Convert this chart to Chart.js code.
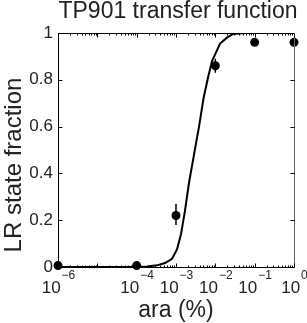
<!DOCTYPE html>
<html>
<head>
<meta charset="utf-8">
<script src="https://cdn.jsdelivr.net/npm/chart.js@4.4.0/dist/chart.umd.min.js"></script>
<style>
  html, body { margin: 0; padding: 0; background: #fff; }
  #c { display: block; }
</style>
</head>
<body>
<canvas id="c" width="307" height="323"></canvas>
<script>
// measured points (ara %, LR state fraction) with error bar ends
const araX = [1e-6, 1e-4, 1e-3, 1e-2, 1e-1, 1];
const lrFrac = [0.006, 0.006, 0.22, 0.86, 0.96, 0.96];
const errLow = [0.006, 0.006, 0.18, 0.83, 0.96, 0.96];
const errHigh = [0.006, 0.006, 0.27, 0.89, 0.96, 0.96];

// fitted transfer curve
const fitX = [1e-6, 1e-4, 1.83e-4, 3.29e-4, 5.26e-4, 7.93e-4, 1.06e-3, 1.34e-3, 1.69e-3, 2.14e-3,
  2.87e-3, 3.85e-3, 5.0e-3, 6.52e-3, 8.24e-3, 1.32e-2, 1.98e-2, 2.82e-2, 5.69e-2, 1];
const fitY = [0, 0, 0.002, 0.007, 0.017, 0.035, 0.075, 0.14, 0.24, 0.36,
  0.48, 0.60, 0.72, 0.81, 0.88, 0.955, 0.98, 0.996, 1.0, 1.0];

// tick labels shown on the x axis (exponents of 10), 10^-5 is not labelled
const xTickExps = [-6, -4, -3, -2, -1, 0];
const yTicks = [0, 0.2, 0.4, 0.6, 0.8, 1];

const FONT = "'Liberation Sans', Arial, Helvetica, sans-serif";
const INK = '#222';

const boxPlugin = {
  id: 'box',
  beforeDatasetsDraw(chart) {
    const ctx = chart.ctx;
    const xs = chart.scales.x, ys = chart.scales.y;
    ctx.save();
    ctx.strokeStyle = '#000';
    ctx.lineWidth = 1.5;
    for (let i = 0; i < araX.length; i++) {
      if (errHigh[i] - errLow[i] <= 0) continue;
      const px = xs.getPixelForValue(araX[i]);
      ctx.beginPath();
      ctx.moveTo(px, ys.getPixelForValue(errLow[i]));
      ctx.lineTo(px, ys.getPixelForValue(errHigh[i]));
      ctx.stroke();
    }
    ctx.restore();
  },
  afterDraw(chart) {
    const ctx = chart.ctx;
    const a = chart.chartArea;
    const xs = chart.scales.x, ys = chart.scales.y;
    const L = Math.round(a.left) + 0.5, R = Math.round(a.right) + 0.5;
    const T = Math.round(a.top) + 0.5, B = Math.round(a.bottom) + 0.5;
    ctx.save();
    ctx.lineWidth = 1;
    ctx.strokeStyle = '#000';
    ctx.beginPath();
    ctx.moveTo(L, T); ctx.lineTo(R, T);
    ctx.moveTo(L, T); ctx.lineTo(L, B);
    ctx.moveTo(L, B); ctx.lineTo(R, B);
    ctx.stroke();
    ctx.strokeStyle = '#666';
    ctx.beginPath();
    ctx.moveTo(R, T); ctx.lineTo(R, B);
    ctx.stroke();

    // log ticks, inside, top and bottom
    ctx.strokeStyle = '#000';
    ctx.beginPath();
    for (let k = -6; k <= 0; k++) {
      for (let m = 1; m <= 9; m++) {
        if (k === 0 && m > 1) break;
        const v = m * Math.pow(10, k);
        const px = Math.round(xs.getPixelForValue(v)) + 0.5;
        const len = m === 1 ? 4 : 2;
        ctx.moveTo(px, B); ctx.lineTo(px, B - len);
        ctx.moveTo(px, T); ctx.lineTo(px, T + len);
      }
    }
    yTicks.forEach(v => {
      const py = Math.round(ys.getPixelForValue(v)) + 0.5;
      ctx.moveTo(L, py); ctx.lineTo(L + 4, py);
      ctx.moveTo(R, py); ctx.lineTo(R - 4, py);
    });
    ctx.stroke();

    // x tick labels 10^k
    ctx.fillStyle = INK;
    ctx.textBaseline = 'alphabetic';
    ctx.textAlign = 'left';
    xTickExps.forEach(e => {
      const px = xs.getPixelForValue(Math.pow(10, e));
      ctx.font = '17px ' + FONT;
      const base = '10';
      const wb = ctx.measureText(base).width;
      ctx.font = '12px ' + FONT;
      const sup = e < 0 ? '\u2212' + (-e) : String(e);
      const ws = ctx.measureText(sup).width;
      const x0 = px - (wb + ws) / 2;
      ctx.font = '17px ' + FONT;
      ctx.fillText(base, x0, 293);
      ctx.font = '12px ' + FONT;
      ctx.fillText(sup, x0 + wb + 1, 279);
    });

    // axis titles and chart title
    ctx.textAlign = 'center';
    ctx.font = '23px ' + FONT;
    ctx.fillText('ara (%)', (a.left + a.right) / 2, 317);
    ctx.fillText('TP901 transfer function', (a.left + a.right) / 2 + 2, 18);
    ctx.font = '24px ' + FONT;
    ctx.translate(21, 165);
    ctx.rotate(-Math.PI / 2);
    ctx.fillText('LR state fraction', 0, 0);
    ctx.restore();
  }
};

new Chart(document.getElementById('c'), {
  type: 'line',
  data: {
    datasets: [{
      label: 'data',
      data: araX.map((x, i) => ({ x: x, y: lrFrac[i] })),
      showLine: false,
      pointRadius: 4.5,
      pointBackgroundColor: '#000',
      pointBorderColor: '#000',
      pointBorderWidth: 0,
      clip: false
    }, {
      label: 'fit',
      data: fitX.map((x, i) => ({ x: x, y: fitY[i] })),
      borderColor: '#000',
      borderWidth: 2,
      pointRadius: 0,
      tension: 0,
      fill: false
    }]
  },
  options: {
    responsive: false,
    devicePixelRatio: 1,
    animation: false,
    layout: { padding: { top: 33, right: 13, left: 0, bottom: 0 } },
    plugins: {
      legend: { display: false },
      title: { display: false },
      tooltip: { enabled: false }
    },
    scales: {
      x: {
        type: 'logarithmic',
        min: 1e-6,
        max: 1,
        grid: { display: false },
        border: { display: false },
        ticks: { display: false },
        afterFit: s => { s.height = 56; }
      },
      y: {
        min: 0,
        max: 1,
        grid: { display: false, drawTicks: false },
        border: { display: false },
        ticks: {
          stepSize: 0.2,
          padding: 5,
          color: INK,
          font: { family: FONT, size: 17 },
          callback: v => String(parseFloat(v.toFixed(1)))
        },
        afterFit: s => { s.width = 58; }
      }
    }
  },
  plugins: [boxPlugin]
});
</script>
</body>
</html>
